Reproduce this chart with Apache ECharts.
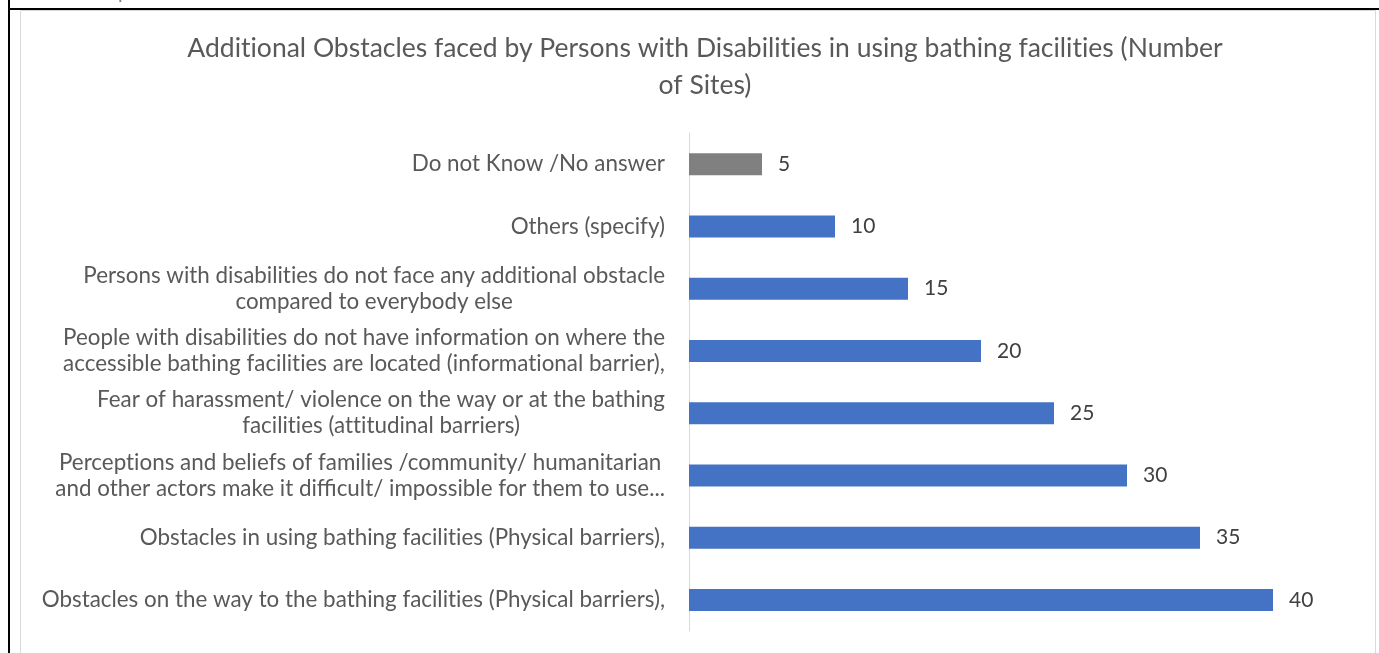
<!DOCTYPE html>
<html>
<head>
<meta charset="utf-8">
<script src="https://cdn.jsdelivr.net/npm/echarts@6/dist/echarts.min.js"></script>
<style>
  html, body { margin: 0; padding: 0; background: #fff; }
  #chart { width: 1379px; height: 653px; }
</style>
</head>
<body>
<div id="chart"></div>
<script>
// Categories listed bottom-to-top (category axis on y starts at the bottom)
const categories = [
  'Obstacles on the way to the bathing facilities (Physical barriers),',
  'Obstacles in using bathing facilities (Physical barriers),',
  'Perceptions and beliefs of families /community/ humanitarian\nand other actors make it difficult/ impossible for them to use...',
  'Fear of harassment/ violence on the way or at the bathing\nfacilities (attitudinal barriers)',
  'People with disabilities do not have information on where the\naccessible bathing facilities are located (informational barrier),',
  'Persons with disabilities do not face any additional obstacle\ncompared to everybody else',
  'Others (specify)',
  'Do not Know /No answer'
];
const siteCounts = [40, 35, 30, 25, 20, 15, 10, 5];
const barColors = ['#4472C4', '#4472C4', '#4472C4', '#4472C4', '#4472C4', '#4472C4', '#4472C4', '#808080'];

const titleText = 'Additional Obstacles faced by Persons with Disabilities in using bathing facilities (Number\nof Sites)';
const headerText = 'Example of Resources';

const FONT = 'Lato, "Open Sans", sans-serif';

// keep "ti"/"tt" as separate glyphs (no font ligatures)
function noLig(s) {
  return s.replace(/t(?=[it])/g, 't\u200C');
}

const chart = echarts.init(document.getElementById('chart'), null, { renderer: 'canvas' });

chart.setOption({
  backgroundColor: '#ffffff',
  animation: false,
  title: {
    text: noLig(titleText),
    left: 700,
    top: 25,
    textAlign: 'center',
    textStyle: {
      color: '#595959',
      fontFamily: FONT,
      fontSize: 26.5,
      fontWeight: 'normal',
      lineHeight: 37
    }
  },
  graphic: [
    // document frame
    { type: 'line', shape: { x1: 9, y1: 0, x2: 9, y2: 653 }, style: { stroke: '#000', lineWidth: 2 } },
    { type: 'line', shape: { x1: 8, y1: 9, x2: 1379, y2: 9 }, style: { stroke: '#000', lineWidth: 2 } },
    // chart area border
    { type: 'rect', shape: { x: 20.5, y: 10.5, width: 1355, height: 660 }, style: { fill: null, stroke: '#d9d9d9', lineWidth: 1 } },
    // heading above the frame, cut by the page top
    { type: 'text', x: 70, y: -17, style: { text: headerText, fill: '#7f7f7f', font: '20px ' + FONT } }
  ],
  grid: {
    left: 689,
    right: 33,
    top: 133,
    bottom: 22,
    containLabel: false
  },
  xAxis: {
    type: 'value',
    min: 0,
    max: 45,
    interval: 5,
    show: false
  },
  yAxis: {
    type: 'category',
    data: categories,
    axisLine: { show: true, lineStyle: { color: '#d9d9d9', width: 1 } },
    axisTick: { show: false },
    axisLabel: {
      margin: 24,
      color: '#595959',
      fontFamily: FONT,
      fontSize: 22.4,
      lineHeight: 26,
      formatter: function (v) {
        return v.split('\n').map(function (line) { return '{c|' + noLig(line) + '}'; }).join('\n');
      },
      rich: {
        c: { align: 'center', color: '#595959', fontFamily: FONT, fontSize: 22.4, lineHeight: 26 }
      }
    }
  },
  series: [{
    type: 'bar',
    data: siteCounts.map(function (v, i) {
      return { value: v, itemStyle: { color: barColors[i] } };
    }),
    barWidth: 22,
    label: {
      show: true,
      position: 'right',
      distance: 16,
      color: '#404040',
      fontFamily: FONT,
      fontSize: 21
    }
  }]
});
</script>
</body>
</html>
